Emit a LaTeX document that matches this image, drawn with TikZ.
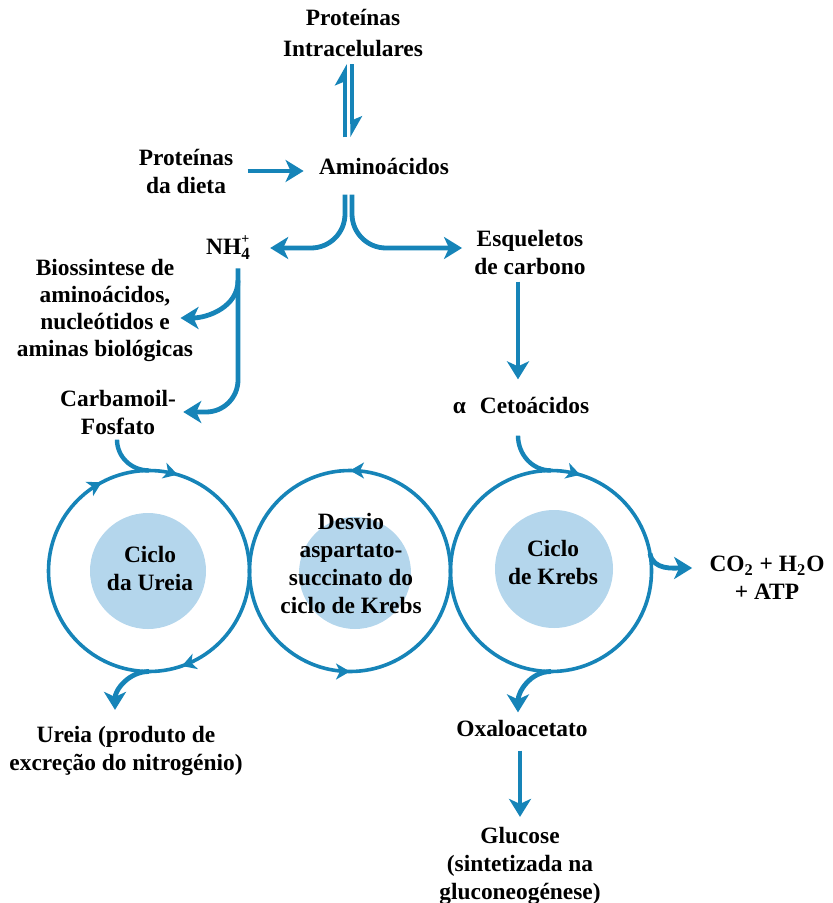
\documentclass[tikz,border=0pt]{standalone}
\usepackage{fontspec}
\setmainfont{Liberation Serif}
\usetikzlibrary{arrows.meta,calc,decorations.markings,positioning}
\definecolor{flowB}{RGB}{22,132,184}
\definecolor{poolB}{RGB}{180,214,236}

\tikzset{
  lbl/.style={font=\bfseries\fontsize{11.7}{14}\selectfont,align=center,inner sep=0pt},
  flow/.style={flowB,line width=2.4pt,-{Stealth[width=11pt,length=9pt,inset=2.5pt]}},
  harp/.style={flowB,line width=1.8pt,-{Stealth[harpoon,width=10pt,length=9pt,inset=2pt]}},
  feed/.style={flowB,line width=2.2pt},
  ring/.style={flowB,line width=1.8pt},
  tick/.style={postaction={decorate,decoration={markings,
     mark=at position #1 with {\arrow{Stealth[width=8pt,length=7pt,inset=2pt]}}}}}
}

\begin{document}
\begin{tikzpicture}[x=0.5pt,y=-0.5pt]
  \useasboundingbox (0,0) rectangle (832,903);
  % centres of the three cycles
  \foreach \n/\x in {1/149,2/350,3/551}
     \coordinate (c\n) at (\x,571);
  % light pools inside the cycles
  \fill[poolB] (148,571) circle[radius=29pt];
  \fill[poolB] (355,573) circle[radius=28pt];
  \fill[poolB] (554,569) circle[radius=29.5pt];
  % the cycles, clockwise / counter-clockwise
  \draw[ring,tick=0.046,tick=0.922,tick=0.447] ($(c1)+(90:50.25pt)$)
     arc[start angle=90,end angle=-270,radius=50.25pt];
  \draw[ring,tick=0.25,tick=0.75] ($(c2)+(0:50.25pt)$)
     arc[start angle=0,end angle=360,radius=50.25pt];
  \draw[ring,tick=0.047] ($(c3)+(90:50.25pt)$)
     arc[start angle=90,end angle=-270,radius=50.25pt];

  % labels
  \node[lbl,font=\bfseries\fontsize{11.7}{15.5}\selectfont] (intra) at (353,33) {Proteínas\\Intracelulares};
  \node[lbl] (dieta) at (186,171) {Proteínas\\da dieta};
  \node[lbl] (amino) at (384,166) {Aminoácidos};
  \node[lbl] (nh) at (228,248) {NH\rlap{\raisebox{5.5pt}{\fontsize{7}{8}\selectfont +}}\raisebox{-2.5pt}{\fontsize{8.5}{9}\selectfont 4}};
  \node[lbl] (esq) at (530,252) {Esqueletos\\de carbono};
  \node[lbl,font=\bfseries\fontsize{11.7}{13.5}\selectfont] (bio) at (105,310) {Biossintese de\\aminoácidos,\\nucleótidos e\\aminas biológicas};
  \node[lbl] (carb) at (118,412) {Carbamoil-\\Fosfato};
  \node[lbl] (ceto) at (521,405) {α\hskip 7pt Cetoácidos};
  \node[lbl] (ureiaT) at (150,568) {Ciclo\\da Ureia};
  \node[lbl] (desvioT) at (351,563) {Desvio\\aspartato-\\succinato do\\ciclo de Krebs};
  \node[lbl] (krebsT) at (553,562) {Ciclo\\de Krebs};
  \node[lbl] (prod) at (767,578) {CO\textsubscript{2} + H\textsubscript{2}O\\+ ATP};
  \node[lbl] (ureia) at (126,751) {Ureia (produto de\\excreção do nitrogénio)};
  \node[lbl] (oxa) at (522,728) {Oxaloacetato};
  \node[lbl] (glic) at (520,866) {Glucose\\(sintetizada na\\gluconeogénese)};

  % proteins <-> amino acids
  \draw[flow] ($(dieta.east)+(7pt,0)$) -- ($(dieta.east -| amino.west)+(-7.5pt,0)$);
  \draw[harp] ($(intra.south |- amino.north)+(-4pt,10pt)$) -- ($(intra.south)+(-4pt,-3.5pt)$);
  \draw[harp] ($(intra.south)+(-0.5pt,-3.5pt)$) -- ($(intra.south |- amino.north)+(-0.5pt,10pt)$);
  % amino acids split
  \draw[flow,rounded corners=17pt] ($(intra.south |- amino.south)+(-4pt,-10pt)$) |- ($(nh.east)+(10pt,0)$);
  \draw[flow,rounded corners=17pt] ($(intra.south |- amino.south)+(-0.5pt,-10pt)$) |- ($(esq.west)+(-6pt,2pt)$);
  % ammonium
  \draw[flow] ($(nh.south)+(5pt,-10pt)$) to[out=-90,in=0] ($(bio.east)+(-6.5pt,-4pt)$);
  \draw[flow,rounded corners=16pt] ($(nh.south)+(5pt,-4pt)$) |- ($(carb.east)+(3.5pt,0)$);
  \draw[feed] ($(carb.south)+(-0.5pt,-2.5pt)$) to[out=-90,in=180] ($(c1)+(90:50.25pt)$);
  \draw[flow] ($(c1)+(-90:50.25pt)$) to[out=180,in=90] ($(ureia.north)+(-5.5pt,8pt)$);
  % carbon skeletons
  \draw[flow] ($(esq.south)+(-6pt,-3.5pt)$) -- ($(ceto.north)+(-1.5pt,8.5pt)$);
  \draw[feed] ($(ceto.south)+(-1.5pt,-11pt)$) to[out=-90,in=180] ($(c3)+(90:50.25pt)$);
  \draw[flow] ($(c3)+(10:50.25pt)$) to[out=-80,in=180] ($(prod.west)+(-8.5pt,5pt)$);
  \draw[flow] ($(c3)+(-90:50.25pt)$) to[out=180,in=90] ($(oxa.north)+(-2pt,3.5pt)$);
  \draw[flow] ($(oxa.south)+(-1pt,-7pt)$) -- ($(glic.north)+(0,5pt)$);
\end{tikzpicture}
\end{document}
